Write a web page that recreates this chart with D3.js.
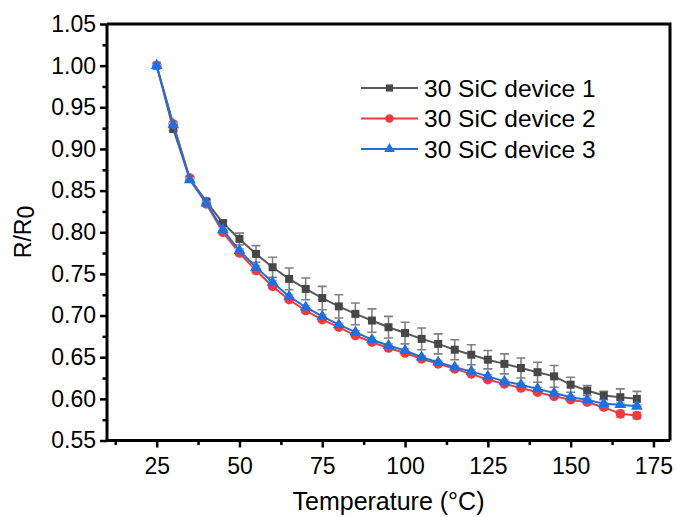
<!DOCTYPE html>
<html>
<head>
<meta charset="utf-8">
<script src="https://cdn.jsdelivr.net/npm/d3@7"></script>
<style>
  html, body { margin: 0; padding: 0; background: #fff; }
  svg { display: block; font-family: Arial, "Liberation Sans", sans-serif; }
</style>
</head>
<body>
<svg id="chart" width="676" height="517"></svg>
<script>
// Temperature steps (°C)
const temps = [25, 30, 35, 40, 45, 50, 55, 60, 65, 70, 75, 80, 85, 90, 95, 100,
               105, 110, 115, 120, 125, 130, 135, 140, 145, 150, 155, 160, 165, 170];

// Normalised resistance R/R0 for each device
const device1 = [1.000, 0.924, 0.864, 0.837, 0.811, 0.792, 0.774, 0.758, 0.744, 0.732,
                 0.721, 0.711, 0.702, 0.694, 0.686, 0.679, 0.672, 0.666, 0.659, 0.653,
                 0.647, 0.642, 0.637, 0.632, 0.627, 0.617, 0.610, 0.604, 0.602, 0.600];
const device1Err = [0.001, 0.002, 0.002, 0.002, 0.003, 0.007, 0.010, 0.012, 0.013, 0.013,
                    0.014, 0.014, 0.013, 0.014, 0.013, 0.013, 0.013, 0.012, 0.012, 0.012,
                    0.011, 0.012, 0.012, 0.012, 0.013, 0.009, 0.006, 0.005, 0.010, 0.009];

const device2 = [1.000, 0.930, 0.865, 0.834, 0.800, 0.775, 0.754, 0.735, 0.719, 0.706,
                 0.695, 0.686, 0.676, 0.668, 0.661, 0.655, 0.648, 0.642, 0.636, 0.630,
                 0.623, 0.618, 0.613, 0.608, 0.603, 0.599, 0.596, 0.590, 0.582, 0.580];
const device2Err = [0.001, 0.002, 0.002, 0.002, 0.002, 0.002, 0.002, 0.002, 0.002, 0.002,
                    0.002, 0.002, 0.002, 0.002, 0.002, 0.002, 0.002, 0.002, 0.002, 0.002,
                    0.002, 0.002, 0.002, 0.002, 0.002, 0.002, 0.002, 0.002, 0.004, 0.004];

const device3 = [1.000, 0.929, 0.863, 0.835, 0.803, 0.778, 0.758, 0.740, 0.723, 0.710,
                 0.699, 0.689, 0.680, 0.671, 0.664, 0.658, 0.650, 0.644, 0.638, 0.633,
                 0.627, 0.621, 0.617, 0.612, 0.607, 0.602, 0.599, 0.594, 0.593, 0.591];
const device3Err = [0.001, 0.002, 0.002, 0.002, 0.002, 0.002, 0.002, 0.002, 0.002, 0.002,
                    0.002, 0.002, 0.002, 0.002, 0.002, 0.002, 0.002, 0.002, 0.002, 0.002,
                    0.002, 0.002, 0.002, 0.002, 0.002, 0.002, 0.002, 0.002, 0.002, 0.002];

const seriesNames = ["30 SiC device 1", "30 SiC device 2", "30 SiC device 3"];

const xTicks = [25, 50, 75, 100, 125, 150, 175];
const xMinorTicks = [12.5, 37.5, 62.5, 87.5, 112.5, 137.5, 162.5];
const yTicks = [0.55, 0.60, 0.65, 0.70, 0.75, 0.80, 0.85, 0.90, 0.95, 1.00, 1.05];
const yMinorTicks = [0.575, 0.625, 0.675, 0.725, 0.775, 0.825, 0.875, 0.925, 0.975, 1.025];

const series = [
  { name: seriesNames[0], values: device1, errors: device1Err, line: "#5a5a5a", fill: "#474747", err: "#808080", shape: d3.symbolSquare, size: 64 },
  { name: seriesNames[1], values: device2, errors: device2Err, line: "#ef3b3e", fill: "#ef3b3e", err: "#f39a9b", shape: d3.symbolCircle, size: 72 },
  { name: seriesNames[2], values: device3, errors: device3Err, line: "#1f6fde", fill: "#1f6fde", err: "#8fb5ee", shape: d3.symbolTriangle, size: 60 }
];

const svg = d3.select("#chart");
const plotLeft = 107, plotRight = 670, plotTop = 24, plotBottom = 440.5;

const x = d3.scaleLinear().domain([10, 180]).range([plotLeft, plotRight]);
const y = d3.scaleLinear().domain([0.55, 1.05]).range([plotBottom, plotTop]);

const fmtY = d3.format(".2f");
const fontFamily = "Arial, 'Liberation Sans', sans-serif";

// Frame (top and right edges)
svg.append("path")
  .attr("d", `M${plotLeft},${plotTop}H${plotRight}V${plotBottom}`)
  .attr("fill", "none").attr("stroke", "#000").attr("stroke-width", 3);

// Bottom axis
const gx = svg.append("g").attr("transform", `translate(0,${plotBottom})`)
  .call(d3.axisBottom(x).tickValues(xTicks).tickSize(7).tickPadding(10).tickFormat(d3.format("d")));
gx.select(".domain").attr("stroke-width", 3).attr("d", `M${plotLeft},0H${plotRight}`);
gx.selectAll(".tick line").attr("stroke-width", 2.5);
gx.selectAll(".tick text").attr("font-size", 23).attr("fill", "#000").attr("font-family", fontFamily);
svg.append("g").attr("transform", `translate(0,${plotBottom})`)
  .call(d3.axisBottom(x).tickValues(xMinorTicks).tickSize(4.5).tickFormat(""))
  .call(g => g.select(".domain").remove())
  .selectAll(".tick line").attr("stroke-width", 2.5);

// Left axis
const gy = svg.append("g").attr("transform", `translate(${plotLeft},0)`)
  .call(d3.axisLeft(y).tickValues(yTicks).tickSize(7).tickPadding(4).tickFormat(fmtY));
gy.select(".domain").attr("stroke-width", 3).attr("d", `M0,${plotBottom}V${plotTop}`);
gy.selectAll(".tick line").attr("stroke-width", 2.5);
gy.selectAll(".tick text").attr("font-size", 23).attr("fill", "#000").attr("font-family", fontFamily);
svg.append("g").attr("transform", `translate(${plotLeft},0)`)
  .call(d3.axisLeft(y).tickValues(yMinorTicks).tickSize(4.5).tickFormat(""))
  .call(g => g.select(".domain").remove())
  .selectAll(".tick line").attr("stroke-width", 2.5);

// Axis titles
svg.append("text")
  .attr("x", (plotLeft + plotRight) / 2).attr("y", 510)
  .attr("text-anchor", "middle").attr("font-size", 25)
  .text("Temperature (°C)");

const yTitle = svg.append("text")
  .attr("transform", `translate(31,232) rotate(-90)`)
  .attr("text-anchor", "middle").attr("font-size", 23);
yTitle.append("tspan").text("R/R");
yTitle.append("tspan").attr("dy", 3).text("0");

// Data
const plot = svg.append("g");
series.forEach(s => {
  const pts = temps.map((t, i) => ({ t, v: s.values[i], e: s.errors[i] }));
  const g = plot.append("g");

  // error bars
  g.selectAll("path.err").data(pts).enter().append("path")
    .attr("class", "err")
    .attr("d", d => {
      const cx = x(d.t), y1 = y(d.v + d.e), y2 = y(d.v - d.e);
      return `M${cx},${y1}V${y2}M${cx - 4.5},${y1}H${cx + 4.5}M${cx - 4.5},${y2}H${cx + 4.5}`;
    })
    .attr("fill", "none").attr("stroke", s.err).attr("stroke-width", 1.6);

  g.append("path").datum(pts)
    .attr("d", d3.line().x(d => x(d.t)).y(d => y(d.v)))
    .attr("fill", "none").attr("stroke", s.line).attr("stroke-width", 2);

  g.selectAll("path.mk").data(pts).enter().append("path")
    .attr("class", "mk")
    .attr("transform", d => `translate(${x(d.t)},${y(d.v)})`)
    .attr("d", d3.symbol().type(s.shape).size(s.size))
    .attr("fill", s.fill);
});

// Legend
const legend = svg.append("g");
series.forEach((s, i) => {
  const ly = 88 + i * 30.5;
  legend.append("line")
    .attr("x1", 361).attr("x2", 418).attr("y1", ly).attr("y2", ly)
    .attr("stroke", s.line).attr("stroke-width", 2);
  legend.append("path")
    .attr("transform", `translate(389.5,${ly})`)
    .attr("d", d3.symbol().type(s.shape).size(s.size * 0.8))
    .attr("fill", s.fill);
  legend.append("text")
    .attr("x", 424).attr("y", ly + 8.5)
    .attr("font-size", 24.5)
    .text(s.name);
});
</script>
</body>
</html>
